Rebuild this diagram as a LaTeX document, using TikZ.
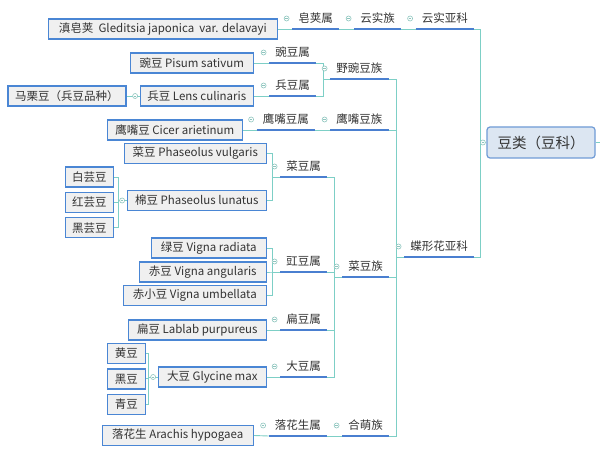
\documentclass[tikz,border=0pt]{standalone}
\usepackage{fontspec}
\setmainfont{Noto Sans CJK SC}
\usetikzlibrary{positioning, calc}

\definecolor{linkteal}{HTML}{7DCFC6}
\definecolor{lineblue}{HTML}{4A7FD0}
\definecolor{boxblue}{HTML}{4A86D4}
\definecolor{boxfill}{HTML}{F0F0F0}
\definecolor{rootfill}{HTML}{DCE6F2}
\definecolor{rootdraw}{HTML}{6F9BD6}
\definecolor{foldgray}{HTML}{8DC5BE}
\definecolor{txtgray}{HTML}{333333}

\begin{document}
\begin{tikzpicture}[
    x=1pt, y=-1pt,
    font=\fontsize{11.5}{13}\selectfont, text=txtgray,
    % --- 物種方框 ---
    species/.style={draw=boxblue, line width=1.4pt, fill=boxfill, rectangle, minimum height=20pt, inner xsep=3pt, inner ysep=0pt},
    % --- 根節點 ---
    rootbox/.style={draw=rootdraw, line width=1.2pt, fill=rootfill, rounded corners=3pt, minimum width=108pt, minimum height=31pt, font=\fontsize{14.5}{16}\selectfont},
    % --- 分類標籤 (底線畫在 south 邊) ---
    taxon/.style={inner xsep=6pt, inner ysep=0pt, text height=8pt, text depth=6.6pt, anchor=south east},
    uline/.style={lineblue, line width=1.6pt},
    % 連接線
    conn/.style={linkteal, line width=0.9pt},
    % 收合小圓
    fold icon/.style={circle, draw=foldgray, line width=0.6pt, fill=white, inner sep=0pt, minimum size=5pt,
        path picture={\draw[foldgray, line width=0.6pt] (path picture bounding box.center) ++(-1.3,0) -- ++(2.6,0);}}
]

    \path[use as bounding box, fill=white] (0,0) rectangle (600,457);

    % --- 1. 根 ---
    \node[rootbox] (root) at (541,142.5) {豆类（豆科）};

    % --- 2. 亞科、族 ---
    \node[taxon] (ysyk) at (474,29) {云实亚科};
    \node[taxon] (dxhyk) at (474,257) {蝶形花亚科};

    \node[taxon] (ysz) at (401,29) {云实族};
    \node[taxon] (ywdz) at (388.5,79) {野豌豆族};
    \node[taxon] (yzdz) at (388.5,130) {鹰嘴豆族};
    \node[taxon] (cdz) at (389,277) {菜豆族};
    \node[taxon] (hmz) at (389,436) {合萌族};

    % --- 3. 屬 ---
    \node[taxon] (zjs) at (339,29) {皂荚属};
    \node[taxon] (wds) at (316,63) {豌豆属};
    \node[taxon] (bds) at (316,96) {兵豆属};
    \node[taxon] (yzds) at (315,130) {鹰嘴豆属};
    \node[taxon] (cds) at (327,177) {菜豆属};
    \node[taxon] (jds) at (327,272) {豇豆属};
    \node[taxon] (bdous) at (327,330) {扁豆属};
    \node[taxon] (dds) at (327,377) {大豆属};
    \node[taxon] (lhss) at (327,436) {落花生属};

    % --- 4. 種 (方框) ---
    \node[species, minimum width=229pt, anchor=east] (dzj) at (278,29) {滇皂荚\ \ Gleditsia japonica\ \ var. delavayi};
    \node[species, minimum width=123pt, anchor=east] (wd) at (254,63) {豌豆 Pisum sativum};
    \node[species, minimum width=113pt, anchor=east] (bd) at (254,96) {兵豆 Lens culinaris};
    \node[species, minimum width=118pt, left=13pt of bd] (mld) {马栗豆（兵豆品种）};
    \node[species, minimum width=135pt, anchor=east] (yzd) at (243,130) {鹰嘴豆 Cicer arietinum};
    \node[species, minimum width=142pt, anchor=east] (cd) at (267,153.5) {菜豆 Phaseolus vulgaris};
    \node[species, minimum width=139pt, anchor=east] (md) at (267,200.5) {棉豆 Phaseolus lunatus};
    \node[species, minimum width=48pt, anchor=east] (byd) at (114,177) {白芸豆};
    \node[species, minimum width=48pt, below=4pt of byd] (hyd) {红芸豆};
    \node[species, minimum width=48pt, below=4pt of hyd] (heiyd) {黑芸豆};
    \node[species, minimum width=115pt, anchor=east] (ld) at (267,248) {绿豆 Vigna radiata};
    \node[species, minimum width=127pt, anchor=east] (chd) at (267,272) {赤豆 Vigna angularis};
    \node[species, minimum width=143pt, anchor=east] (cxd) at (267,295.5) {赤小豆 Vigna umbellata};
    \node[species, minimum width=138pt, anchor=east] (bdou) at (267,330) {扁豆 Lablab purpureus};
    \node[species, minimum width=108pt, anchor=east] (dd) at (267,377) {大豆 Glycine max};
    \node[species, minimum width=38pt, anchor=east] (hd) at (146,353.5) {黄豆};
    \node[species, minimum width=38pt, below=4pt of hd] (hed) {黑豆};
    \node[species, minimum width=38pt, below=4pt of hed] (qd) {青豆};
    \node[species, minimum width=151pt, anchor=east] (lhs) at (254,435.5) {落花生 Arachis hypogaea};

    % --- 5. 連接線 ---
    \foreach \c in {ysyk, dxhyk} \draw[conn] (root.west) -- ++(-6,0) |- (\c.south east);
    \draw[conn] (root.east) -- ++(6,0);
    \draw[conn] (ysyk.south west) -- (ysz.south east);
    \draw[conn] (ysz.south west) -- (zjs.south east);
    \draw[conn] (zjs.south west) -- (dzj.east);

    \foreach \c in {ywdz, yzdz, cdz, hmz} \draw[conn] (dxhyk.south west) -- ++(-8,0) |- (\c.south east);
    \foreach \c in {wds, bds} \draw[conn] (ywdz.south west) -- ++(-7,0) |- (\c.south east);
    \draw[conn] (yzdz.south west) -- (yzds.south east);
    \foreach \c in {cds, jds, bdous, dds} \draw[conn] (cdz.south west) -- ++(-8,0) |- (\c.south east);
    \draw[conn] (hmz.south west) -- (lhss.south east);

    \draw[conn] (wds.south west) -- (wd.east);
    \draw[conn] (bds.south west) -- (bd.east);
    \draw[conn] (yzds.south west) -- (yzd.east);
    \foreach \c in {cd, md} \draw[conn] (cds.south west) -- ++(-8,0) |- (\c.east);
    \foreach \c in {ld, chd, cxd} \draw[conn] (jds.south west) -- ++(-8,0) |- (\c.east);
    \draw[conn] (bdous.south west) -- (bdou.east);
    \draw[conn] (dds.south west) -- (dd.east);
    \draw[conn] (lhss.south west) -- (lhs.east);

    \draw[conn] (bd.west) -- (mld.east);
    \foreach \c in {byd, hyd, heiyd} \draw[conn] (md.west) -- ++(-8,0) |- (\c.east);
    \foreach \c in {hd, hed, qd} \draw[conn] (dd.west) -- ++(-9,0) |- (\c.east);

    % --- 6. 底線與收合小圓 ---
    \foreach \n in {ysyk, dxhyk, ysz, ywdz, yzdz, cdz, hmz, zjs, wds, bds, yzds, cds, jds, bdous, dds, lhss} {
        \draw[uline] (\n.south west) -- (\n.south east);
        \node[fold icon] (f\n) at ($(\n.south west)+(-5.5,-10.5)$) {};
    }
    \foreach \n in {bd, md, dd} \node[fold icon] (f\n) at ($(\n.west)+(-4.5,0)$) {};
    \node[fold icon] (froot) at ($(root.west)+(-3.5,0)$) {};

\end{tikzpicture}
\end{document}
